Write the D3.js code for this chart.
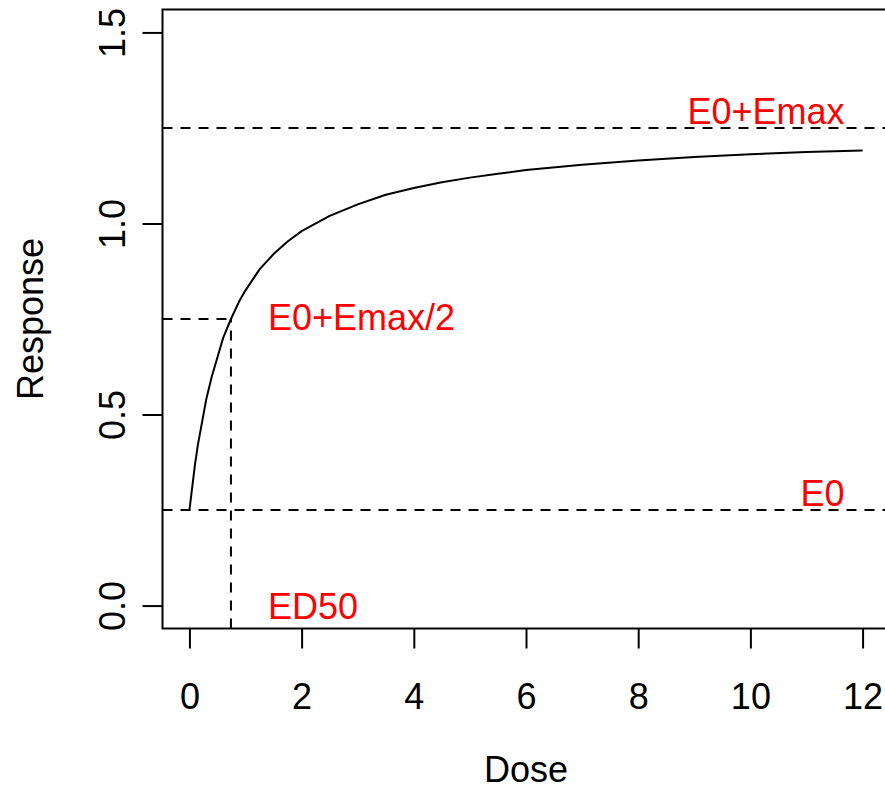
<!DOCTYPE html>
<html>
<head>
<meta charset="utf-8">
<script src="https://cdn.jsdelivr.net/npm/d3@7"></script>
<style>
  html, body { margin: 0; padding: 0; background: #fff; }
  svg { display: block; font-family: "Liberation Sans", Arial, Helvetica, sans-serif; }
</style>
</head>
<body>
<svg id="chart" width="885" height="791"></svg>
<script>
// Emax dose-response curve
const dose = [0, 0.05, 0.1, 0.15, 0.2, 0.3, 0.4, 0.5, 0.6, 0.74, 0.9, 1.0, 1.25, 1.5, 1.75,
              2, 2.5, 3, 3.5, 4, 4.5, 5, 5.5, 6, 7, 8, 9, 10, 11, 12];
const response = [0.25, 0.31, 0.37, 0.42, 0.46, 0.54, 0.60, 0.65, 0.70, 0.75, 0.80, 0.825, 0.88, 0.92, 0.953,
                  0.98, 1.02, 1.05, 1.075, 1.093, 1.108, 1.12, 1.13, 1.14, 1.154, 1.165, 1.174, 1.181, 1.187, 1.191];

// Model reference levels
const e0 = 0.25;
const eHalf = 0.75;
const eTop = 1.25;
const ed50 = 0.74;

// Annotations: text, position (dose, response) and anchor
const labelText = ["E0+Emax", "E0", "E0+Emax/2", "ED50"];
const labelDose = [11.68, 11.68, 1.4, 1.4];
const labelResp = [1.26, 0.26, 0.72, -0.036];
const labelAnchor = ["end", "end", "start", "start"];

const xTicks = [0, 2, 4, 6, 8, 10, 12];
const yTicks = [0, 0.5, 1.0, 1.5];
const xTitle = "Dose";
const yTitle = "Response";

const svg = d3.select("#chart");
const plotLeft = 162.5, plotRight = 889.5, plotTop = 9.5, plotBottom = 628.5;

const x = d3.scaleLinear().domain([-0.48, 12.48]).range([plotLeft, plotRight]);
const y = d3.scaleLinear().domain([-0.06, 1.56]).range([plotBottom, plotTop]);

const fontSize = 36;

// x axis
const gx = svg.append("g")
  .attr("transform", `translate(0,${plotBottom})`)
  .call(d3.axisBottom(x).tickValues(xTicks).tickFormat(d3.format("d"))
        .tickSize(20).tickSizeOuter(0).tickPadding(35));
gx.select(".domain").remove();
gx.selectAll(".tick line").attr("stroke", "#000").attr("stroke-width", 2);
gx.selectAll(".tick text").attr("font-size", fontSize).attr("fill", "#000");
gx.attr("font-family", null).attr("font-size", null);

// y axis with rotated labels
const gy = svg.append("g")
  .attr("transform", `translate(${plotLeft},0)`)
  .call(d3.axisLeft(y).tickValues(yTicks).tickFormat(d3.format(".1f"))
        .tickSize(20).tickSizeOuter(0));
gy.select(".domain").remove();
gy.attr("font-family", null).attr("font-size", null);
gy.selectAll(".tick line").attr("stroke", "#000").attr("stroke-width", 2);
gy.selectAll(".tick text")
  .attr("font-size", fontSize).attr("fill", "#000")
  .attr("x", 0).attr("y", -38).attr("dy", null)
  .attr("text-anchor", "middle")
  .attr("transform", "rotate(-90)");

// plot box
svg.append("rect")
  .attr("x", plotLeft).attr("y", plotTop)
  .attr("width", plotRight - plotLeft).attr("height", plotBottom - plotTop)
  .attr("fill", "none").attr("stroke", "#000").attr("stroke-width", 2);

const dash = "10,8";

// reference lines
svg.append("line")
  .attr("x1", plotLeft).attr("x2", plotRight)
  .attr("y1", y(e0)).attr("y2", y(e0))
  .attr("stroke", "#000").attr("stroke-width", 2).attr("stroke-dasharray", dash);
svg.append("line")
  .attr("x1", plotLeft).attr("x2", plotRight)
  .attr("y1", y(eTop)).attr("y2", y(eTop))
  .attr("stroke", "#000").attr("stroke-width", 2).attr("stroke-dasharray", dash);
svg.append("line")
  .attr("x1", plotLeft).attr("x2", x(ed50))
  .attr("y1", y(eHalf)).attr("y2", y(eHalf))
  .attr("stroke", "#000").attr("stroke-width", 2).attr("stroke-dasharray", dash);
svg.append("line")
  .attr("x1", x(ed50)).attr("x2", x(ed50))
  .attr("y1", plotBottom).attr("y2", y(eHalf))
  .attr("stroke", "#000").attr("stroke-width", 2).attr("stroke-dasharray", dash);

// curve
const pts = dose.map((d, i) => [d, response[i]]);
svg.append("path")
  .datum(pts)
  .attr("fill", "none")
  .attr("stroke", "#000")
  .attr("stroke-width", 2)
  .attr("stroke-linejoin", "round")
  .attr("d", d3.line().x(d => x(d[0])).y(d => y(d[1])));

// annotations
svg.append("g").selectAll("text")
  .data(labelText)
  .join("text")
  .attr("x", (d, i) => x(labelDose[i]))
  .attr("y", (d, i) => y(labelResp[i]))
  .attr("text-anchor", (d, i) => labelAnchor[i])
  .attr("font-size", fontSize)
  .attr("fill", "#ff0000")
  .text(d => d);

// axis titles
svg.append("text")
  .attr("x", (plotLeft + plotRight) / 2).attr("y", 782)
  .attr("text-anchor", "middle")
  .attr("font-size", fontSize)
  .text(xTitle);
svg.append("text")
  .attr("transform", `translate(43,${(plotTop + plotBottom) / 2}) rotate(-90)`)
  .attr("text-anchor", "middle")
  .attr("font-size", fontSize)
  .text(yTitle);
</script>
</body>
</html>
